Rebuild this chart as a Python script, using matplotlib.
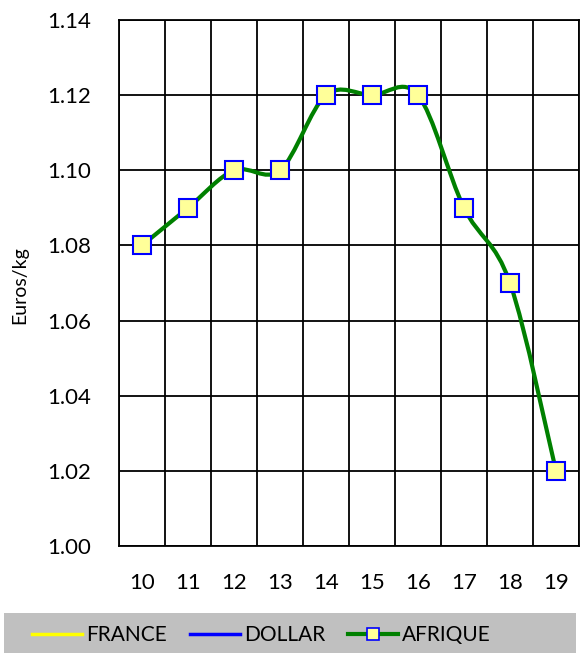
import matplotlib
matplotlib.use("Agg")
import matplotlib.pyplot as plt
from matplotlib.path import Path
from matplotlib.patches import PathPatch, Rectangle
from matplotlib.lines import Line2D

plt.rcParams['font.family'] = ['Lato', 'DejaVu Sans']

# data
weeks   = [10, 11, 12, 13, 14, 15, 16, 17, 18, 19]
afrique = [1.08, 1.09, 1.10, 1.10, 1.12, 1.12, 1.12, 1.09, 1.07, 1.02]
y_ticks = [1.00, 1.02, 1.04, 1.06, 1.08, 1.10, 1.12, 1.14]
series_names = ["FRANCE", "DOLLAR", "AFRIQUE"]

GREEN = "#008000"
W, H = 587, 653


def smooth_path(xs, ys):
    # Catmull-Rom style bezier through the points
    pts = list(zip(xs, ys))
    verts = [pts[0]]
    codes = [Path.MOVETO]
    n = len(pts)
    for i in range(n - 1):
        p0 = pts[i - 1] if i > 0 else pts[i]
        p1 = pts[i]
        p2 = pts[i + 1]
        p3 = pts[i + 2] if i + 2 < n else pts[i + 1]
        c1 = (p1[0] + (p2[0] - p0[0]) / 6, p1[1] + (p2[1] - p0[1]) / 6)
        c2 = (p2[0] - (p3[0] - p1[0]) / 6, p2[1] - (p3[1] - p1[1]) / 6)
        verts += [c1, c2, p2]
        codes += [Path.CURVE4] * 3
    return Path(verts, codes)


fig = plt.figure(figsize=(W / 100, H / 100), dpi=100)
ax = fig.add_axes([119 / W, 107 / H, 460 / W, 526 / H])

ax.set_xlim(9.5, 19.5)
ax.set_ylim(1.00, 1.14)
ax.set_yticks(y_ticks)
ax.set_yticklabels([f"{v:.2f}" for v in y_ticks])
ax.set_xticks(weeks)
ax.tick_params(length=0, labelbottom=False)
ax.tick_params(axis="y", labelsize=16, pad=20)

# category labels under the plot
for w in weeks:
    ax.text(w, -37 / 526, str(w), transform=ax.get_xaxis_transform(),
            ha="center", va="center", fontsize=16)

# grid: horizontal at ticks, vertical at category borders
for v in y_ticks:
    ax.axhline(v, color="black", lw=1.3, zorder=1)
for i in range(len(weeks) + 1):
    ax.axvline(weeks[0] - 0.5 + i, color="black", lw=1.3, zorder=1)
for s in ax.spines.values():
    s.set_linewidth(1.3)

fig.text(20 / W, 1 - 285 / H, "Euros/kg", rotation=90, ha="center",
         va="center", fontsize=14)

ax.add_patch(PathPatch(smooth_path(weeks, afrique), fill=False,
                       edgecolor=GREEN, lw=3, zorder=3, capstyle="round"))
ax.plot(weeks, afrique, ls="none", marker="s", ms=12.5,
        mfc="#ffff99", mec="#0000ff", mew=1.5, zorder=4)

# legend band
fig.patches.append(Rectangle((4 / W, 0), 572 / W, 40 / H,
                             transform=fig.transFigure, facecolor="#c0c0c0",
                             edgecolor="none", zorder=0))
handles = [
    Line2D([], [], color="#ffff00", lw=2.5),
    Line2D([], [], color="#0000ff", lw=2.5),
    Line2D([], [], color=GREEN, lw=3, marker="s", ms=9,
           mfc="#ffff99", mec="#0000ff", mew=1.2),
]
fig.legend(handles, series_names, loc="center", bbox_to_anchor=(0.445, 18 / H),
           ncol=3, frameon=False, fontsize=15, handlelength=2.4,
           handletextpad=0.2, columnspacing=1.1)

fig.savefig("out.png", dpi=100)
